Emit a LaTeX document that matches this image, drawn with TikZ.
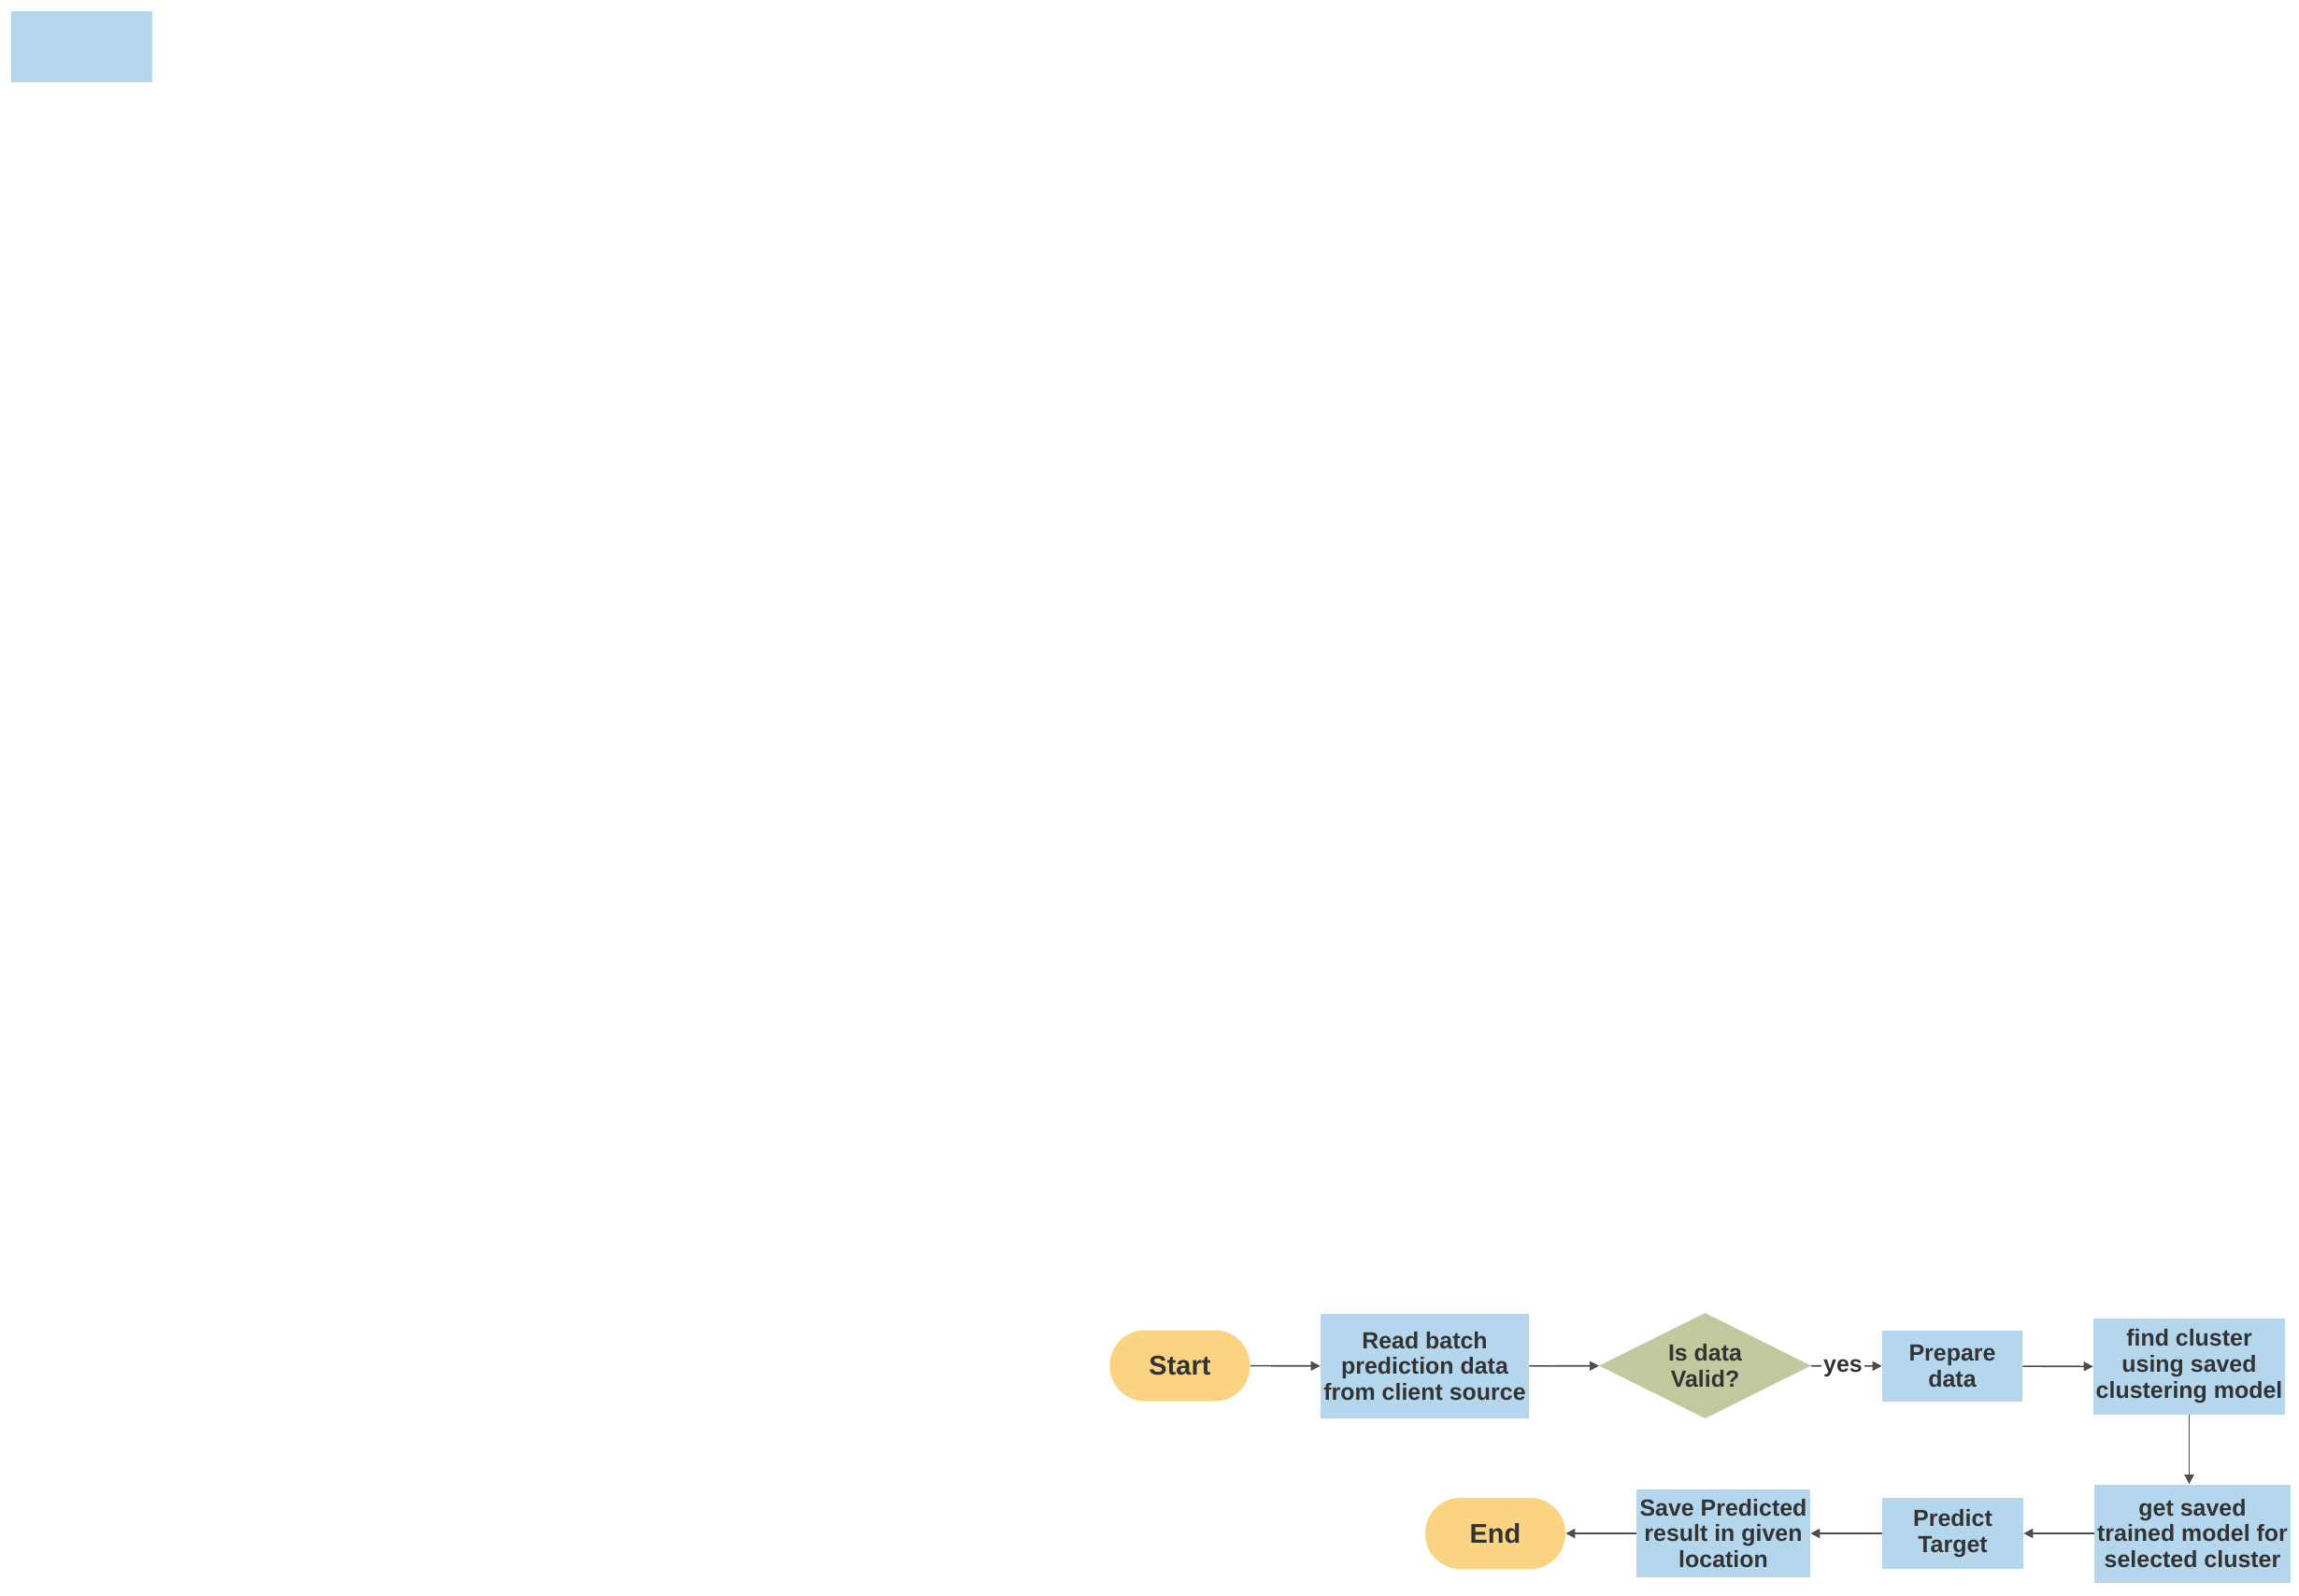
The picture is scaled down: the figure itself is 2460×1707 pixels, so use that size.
\documentclass[tikz,border=0pt]{standalone}
\usepackage{fontspec}
\setmainfont{Liberation Sans}
\usetikzlibrary{arrows.meta,shapes.geometric}
\definecolor{boxblue}{HTML}{B4D7EE}
\definecolor{termyellow}{HTML}{FAD482}
\definecolor{decgreen}{HTML}{C3C99F}
\definecolor{inkgrey}{HTML}{333333}
\definecolor{linegrey}{HTML}{4D4D4D}

\begin{document}
\begin{tikzpicture}[x=0.02cm, y=-0.02cm, >={Triangle[length=0.2cm, width=0.2cm]},
    every node/.style={font=\bfseries\fontsize{14.2}{15.9}\selectfont, text=inkgrey, align=center, inner sep=0pt},
    process/.style args={#1x#2}{rectangle, fill=boxblue, minimum width=#1cm, minimum height=#2cm},
    terminal/.style={rectangle, rounded corners=0.75cm, fill=termyellow, minimum width=3cm, minimum height=1.52cm, font=\bfseries\fontsize{16.5}{19}\selectfont},
    decision/.style={diamond, aspect=2, fill=decgreen, minimum width=4.54cm, minimum height=2.26cm},
    flow/.style={->, draw=linegrey, line width=0.9pt}]
    \useasboundingbox (0,0) rectangle (2460,1707);

    \node[process=3.02x1.52] (legend) at (87.5,50) {};

    \node[terminal] (start) at (1262.5,1461.5) {Start};
    \node[process=4.46x2.24] (read) at (1524.5,1462) {Read batch\\prediction data\\from client source};
    \node[decision] (valid) at (1824.5,1461.5) {Is data\\Valid?};
    \node[process=3.0x1.52] (prepare) at (2089,1462) {Prepare\\data};
    \node[process=4.1x2.06] (cluster) at (2342.5,1462.5) {find cluster\\using saved\\clustering model};
    \node[process=4.2x2.1] (getmodel) at (2346,1641) {get saved\\trained model for\\selected cluster};
    \node[process=3.02x1.52] (predict) at (2089.5,1641) {Predict\\Target};
    \node[process=3.72x1.88] (save) at (1844,1641) {Save Predicted\\result in given\\location};
    \node[terminal] (end) at (1600,1641) {End};

    \draw[flow] (start) -- (read);
    \draw[flow] (read) -- (valid);
    \draw[flow] (valid) -- node[pos=0.45, fill=white, inner sep=1pt, yshift=-0.06cm] {yes} (prepare);
    \draw[flow] (prepare) -- (cluster);
    \draw[flow] (cluster.south) -- (cluster.south |- getmodel.north);
    \draw[flow] (getmodel) -- (predict);
    \draw[flow] (predict) -- (save);
    \draw[flow] (save) -- (end);
\end{tikzpicture}
\end{document}
